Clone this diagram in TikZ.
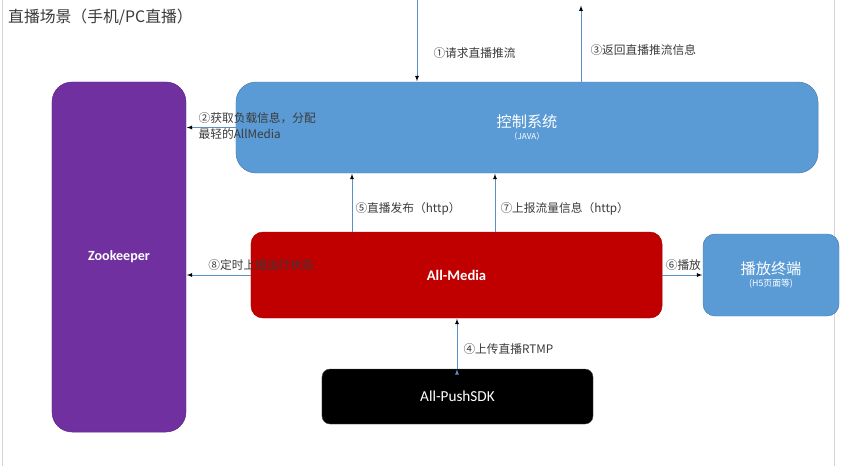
\documentclass[tikz,border=0pt]{standalone}
\usepackage{fontspec}
\setmainfont{Noto Sans CJK SC}
\newfontfamily\latfont{Carlito}
\usetikzlibrary{arrows}

\definecolor{zkpurple}{HTML}{7030A0}
\definecolor{ctrlblue}{HTML}{5B9BD5}
\definecolor{mediared}{HTML}{C00000}
\definecolor{arrowblue}{HTML}{5B8FC9}
\definecolor{labelgray}{HTML}{3A3A3A}
\definecolor{slidegray}{HTML}{D4D4D4}

\begin{document}
\begin{tikzpicture}[x=0.03cm,y=-0.03cm,->,>=latex,shorten >=0.5pt,
    line/.style={draw=arrowblue,line width=0.6pt},
    box node/.style={text=white,inner sep=2pt,align=center},
    step label/.style={font=\fontsize{10}{13.5}\selectfont,text=labelgray,inner sep=1pt}]

  \useasboundingbox (0,0) rectangle (841,467);
  \draw[-,slidegray] (2,0) -- (2,467);
  \draw[-,slidegray] (834,0) -- (834,467);

  \node[anchor=west,inner sep=0pt,text=labelgray,font=\fontsize{13.5}{16}\selectfont] (title) at (8,17) {直播场景（手机/PC直播）};

  \node[box node,fill=zkpurple,draw=zkpurple!85!black,rounded corners=0.6cm,
    minimum width=4.02cm,minimum height=10.5cm] (zk) at (119,257)
    {\latfont\bfseries\fontsize{12}{14}\selectfont Zookeeper};
  \node[box node,fill=ctrlblue,draw=ctrlblue!80!black,rounded corners=0.6cm,
    minimum width=17.46cm,minimum height=2.73cm] (ctrl) at (527,127.5)
    {{\fontsize{13}{15}\selectfont 控制系统}\\[-2pt]{\fontsize{7}{8}\selectfont （JAVA）}};
  \node[box node,fill=mediared,draw=mediared!85!black,rounded corners=0.36cm,
    minimum width=12.33cm,minimum height=2.58cm] (media) at (456.5,275)
    {\latfont\bfseries\fontsize{12.5}{14}\selectfont All-Media};
  \node[box node,fill=ctrlblue,draw=ctrlblue!80!black,rounded corners=0.36cm,
    minimum width=4.08cm,minimum height=2.46cm] (play) at (771,275)
    {{\fontsize{13}{15}\selectfont 播放终端}\\[-2pt]{\fontsize{7.5}{9}\selectfont (H5页面等)}};
  \node[box node,fill=black,draw=black!70,rounded corners=0.24cm,
    minimum width=8.13cm,minimum height=1.65cm] (push) at (457.5,396.5)
    {\latfont\fontsize{13}{15}\selectfont All-PushSDK};

  \coordinate (req) at (417,0);
  \coordinate (ret) at (581,5);
  \coordinate (pub) at (352,0);
  \coordinate (rep) at (495,0);
  \coordinate (up) at (457,0);

  \path[line,every node/.style={step label}]
    (req) edge node[anchor=west,pos=0.65,xshift=0.45cm] {①请求直播推流} (req |- ctrl.north)
    (ret |- ctrl.north) edge node[anchor=west,pos=0.42,xshift=0.24cm] {③返回直播推流信息} (ret)
    (ctrl.west) edge node[anchor=west,align=left,pos=0.78,yshift=0.05cm] {②获取负载信息，分配\\最轻的AllMedia} (zk.east |- ctrl.west)
    (pub |- media.north) edge node[anchor=west,pos=0.39,xshift=0.06cm] {⑤直播发布（http）} (pub |- ctrl.south)
    (rep |- media.north) edge node[anchor=west,pos=0.39,xshift=0.12cm] {⑦上报流量信息（http）} (rep |- ctrl.south)
    (media.west) edge node[anchor=south west,pos=0.68,yshift=0.1cm] {⑧定时上报运行状态} (zk.east |- media.west)
    (media.east) edge node[anchor=south west,pos=0.05,yshift=0.1cm] {⑥播放} (play.west)
    (up |- push.north) edge node[anchor=west,pos=0.39,xshift=0.15cm] {④上传直播RTMP} (up |- media.south)
    ;
\end{tikzpicture}
\end{document}
